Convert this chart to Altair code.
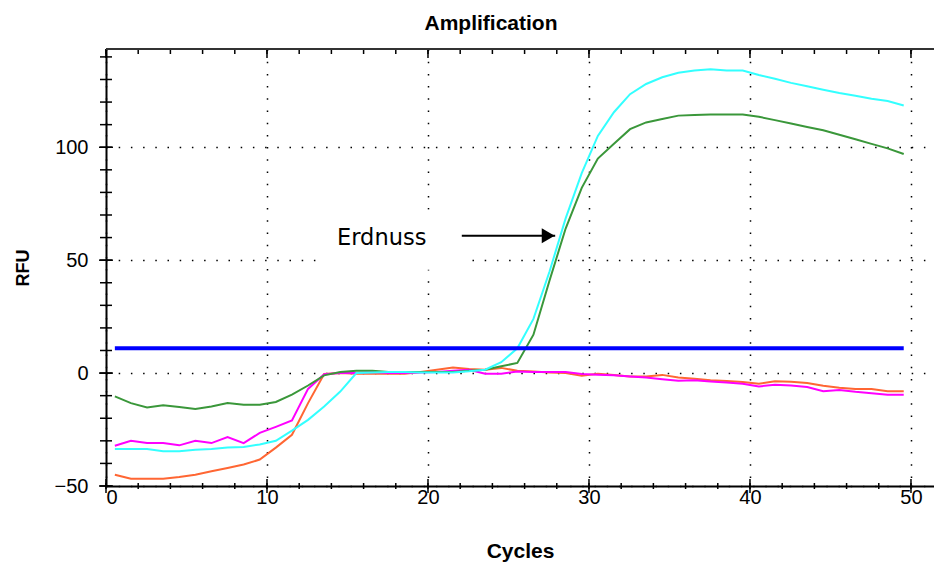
import altair as alt
import pandas as pd

# ---------------- data ----------------
cycles = list(range(1, 51))

orange = [-45, -46.8, -46.8, -46.8, -46, -45, -43.5, -42, -40.5, -38.3,
          -33, -27.3, -13.3, -0.4, 0, -0.3, -0.3, -0.3, -0.3, 0.5,
          1.5, 2.5, 1.8, 1.5, 2.3, 1, 0.7, 0.3, 0, -1.2,
          -0.3, -0.8, -1.5, -1.5, -0.8, -2, -2.5, -3.2, -3.5, -4,
          -4.7, -3.6, -3.8, -4.4, -5.6, -6.5, -7, -7, -8, -8]

magenta = [-32.2, -30, -31, -31, -32, -30, -31, -28.3, -31, -26.5,
           -23.8, -21, -7, -0.5, 0, 0, 0.5, 0, 0, 0.3,
           0.5, 1, 1.5, -0.3, -0.3, 0.7, 0.5, 0.5, 0.5, -0.4,
           -0.7, -1, -1.5, -2, -2.7, -3.4, -3.2, -3.7, -4.2, -4.7,
           -5.9, -5.2, -5.5, -6.2, -8, -7.5, -8.3, -8.9, -9.6, -9.6]

green = [-10.3, -13.3, -15.2, -14.2, -15, -15.9, -14.8, -13.3, -14, -14,
         -12.8, -9.5, -5.5, -1, 0.5, 1, 1, 0.5, 0.5, 0.5,
         0.5, 0.5, 1, 1.5, 3, 4.5, 17, 41, 64, 82,
         95, 101.5, 108, 111, 112.5, 114, 114.3, 114.5, 114.5, 114.5,
         113.5, 112, 110.5, 109, 107.5, 105.5, 103.5, 101.5, 99.5, 97]

cyan = [-33.6, -33.6, -33.6, -34.6, -34.6, -34, -33.6, -33, -32.7, -31.6,
        -30, -25.5, -20.7, -14.8, -8.2, 0, 0.3, 0.5, 0.5, 0.3,
        0.3, 0.3, 0.8, 1.5, 4.8, 11, 24, 45, 68.5, 88.5,
        105, 115.5, 123.5, 128, 131, 133, 134, 134.5, 134, 134,
        132, 130.3, 128.5, 127, 125.5, 124, 122.8, 121.5, 120.5, 118.5]

threshold_value = [11]
threshold_start = [0.55]
threshold_end = [49.55]

x_major_ticks = [0, 10, 20, 30, 40, 50]
x_minor_ticks = list(range(0, 52, 2))
y_major_ticks = [-50, 0, 50, 100]
y_minor_ticks = list(range(-50, 150, 10))

label_text = ["Erdnuss"]
label_cycle = [14.35]
label_rfu = [60]
arrow_start = [22.1]
arrow_end = [27.9]
arrow_rfu = [60.8]
box_x = [13.3]
box_x2 = [22.5]
box_y = [45.8]
box_y2 = [72.3]

series = [("orange", orange, "#FF6633"),
          ("magenta", magenta, "#FF00FF"),
          ("green", green, "#3A973A"),
          ("cyan", cyan, "#33FFFF")]

W, H = 828, 437
XD = [0, 51.43]
YD = [-50, 143.5]

xs = alt.Scale(domain=XD, nice=False, zero=False)
ys = alt.Scale(domain=YD, nice=False, zero=False)

FONT = "Liberation Sans"

x_axis = alt.Axis(values=x_major_ticks, title="Cycles", grid=True,
                  gridDash=[1.5, 10.7], gridColor="#000000", gridWidth=1.5,
                  gridOpacity=1, ticks=False, domain=True, domainColor="#000000",
                  domainWidth=2, labelFont=FONT, labelFontSize=20,
                  labelColor="#000000", labelPadding=1, titleFont=FONT,
                  titleFontSize=21, titleFontWeight="bold", titleColor="#000000",
                  titlePadding=33)
y_axis = alt.Axis(values=y_major_ticks, title="RFU", grid=True,
                  gridDash=[1.5, 10.7], gridColor="#000000", gridWidth=1.5,
                  gridOpacity=1, ticks=False, domain=True, domainColor="#000000",
                  domainWidth=2, labelFont=FONT, labelFontSize=20,
                  labelColor="#000000", labelPadding=18, titleFont=FONT,
                  titleFontSize=18, titleFontWeight="bold", titleColor="#000000",
                  titlePadding=22)

line_layers = []
for name, vals, col in series:
    d = pd.DataFrame({"cycle": cycles, "rfu": vals})
    layer = alt.Chart(d).transform_calculate(
        xpos="datum.cycle - 0.45"
    ).mark_line(color=col, strokeWidth=2).encode(
        x=alt.X("xpos:Q", scale=xs, axis=x_axis),
        y=alt.Y("rfu:Q", scale=ys, axis=y_axis),
    )
    line_layers.append(layer)

# white box behind label (interrupts the grid)
box = alt.Chart(pd.DataFrame({"x": box_x, "x2": box_x2, "y": box_y, "y2": box_y2})).mark_rect(
    color="white").encode(
    x=alt.X("x:Q", scale=xs, axis=x_axis), x2="x2:Q",
    y=alt.Y("y:Q", scale=ys, axis=y_axis), y2="y2:Q")

thr = alt.Chart(pd.DataFrame({"x": threshold_start, "x2": threshold_end, "y": threshold_value})).mark_rule(
    color="#0000FF", strokeWidth=4).encode(
    x=alt.X("x:Q", scale=xs), x2="x2:Q", y=alt.Y("y:Q", scale=ys))

arrow_df = pd.DataFrame({"x": arrow_start, "x2": arrow_end, "y": arrow_rfu})
arrow_line = alt.Chart(arrow_df).mark_rule(color="#000000", strokeWidth=2).encode(
    x=alt.X("x:Q", scale=xs), x2="x2:Q", y=alt.Y("y:Q", scale=ys))
arrow_head = alt.Chart(arrow_df).mark_point(
    shape="triangle-right", filled=True, color="#000000", size=220, opacity=1,
    xOffset=-7).encode(
    x=alt.X("x2:Q", scale=xs), y=alt.Y("y:Q", scale=ys))

label = alt.Chart(pd.DataFrame({"t": label_text, "x": label_cycle, "y": label_rfu})).mark_text(
    align="left", baseline="middle", font="DejaVu Sans", fontSize=22.5, color="#000000").encode(
    x=alt.X("x:Q", scale=xs), y=alt.Y("y:Q", scale=ys), text="t:N")

def xticks(vals, y0, y1):
    return alt.Chart(pd.DataFrame({"v": vals})).mark_rule(color="#000000", strokeWidth=1.5).encode(
        x=alt.X("v:Q", scale=xs), y=alt.value(y0), y2=alt.value(y1))

def yticks(vals, x0, x1):
    return alt.Chart(pd.DataFrame({"v": vals})).mark_rule(color="#000000", strokeWidth=1.5).encode(
        y=alt.Y("v:Q", scale=ys), x=alt.value(x0), x2=alt.value(x1))

tick_layers = [
    xticks(x_minor_ticks, H - 3, H + 3),
    xticks(x_major_ticks, H - 7, H + 7),
    xticks(x_minor_ticks, 0, 5),
    xticks(x_major_ticks, 0, 9),
    yticks(y_minor_ticks, -6, 6),
    yticks(y_major_ticks, -7, 7),
]

top_border = alt.Chart(pd.DataFrame({"v": [0]})).mark_rule(color="#333333", strokeWidth=2).encode(
    x=alt.value(0), x2=alt.value(W), y=alt.value(0))

chart = alt.layer(
    box, *line_layers, thr, arrow_line, arrow_head, label, *tick_layers, top_border
).properties(
    width=W, height=H,
    title=alt.TitleParams("Amplification", font=FONT, fontSize=21, fontWeight="bold",
                          color="#000000", anchor="middle", dx=-29, offset=14),
    autosize=alt.AutoSizeParams(type="none"),
    padding={"left": 106, "top": 49, "right": 0, "bottom": 76},
).configure_view(stroke=None).configure(background="white")

chart.save("out.html", embed_options={"renderer": "svg", "actions": False})
